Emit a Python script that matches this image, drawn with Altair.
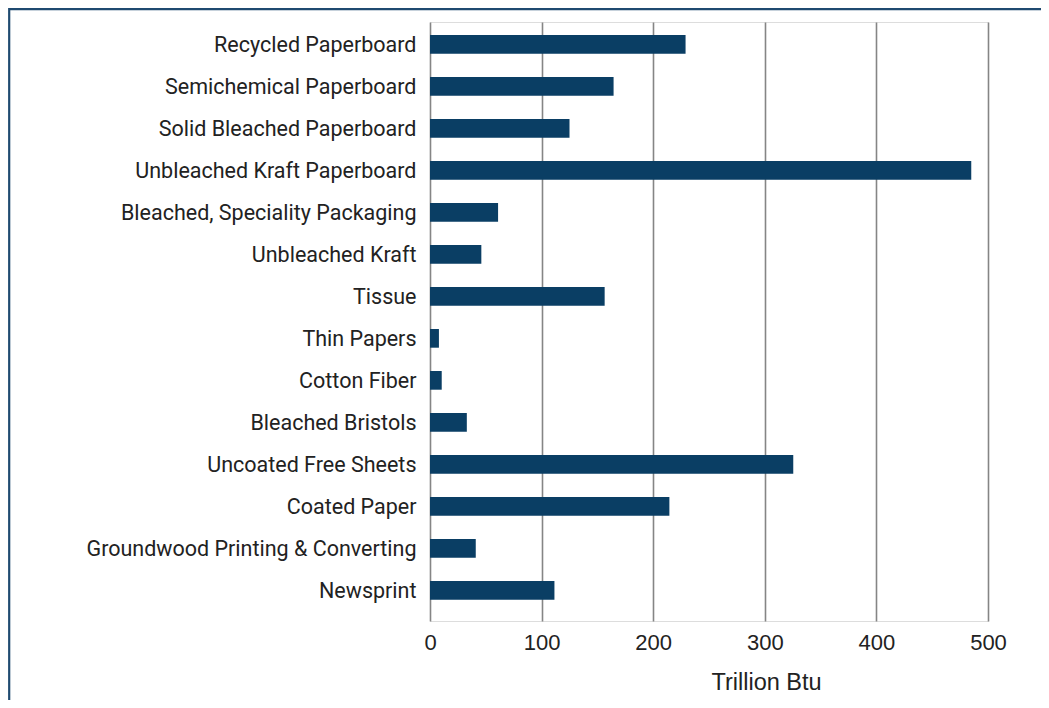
import altair as alt
import pandas as pd

categories = [
    "Recycled Paperboard",
    "Semichemical Paperboard",
    "Solid Bleached Paperboard",
    "Unbleached Kraft Paperboard",
    "Bleached, Speciality Packaging",
    "Unbleached Kraft",
    "Tissue",
    "Thin Papers",
    "Cotton Fiber",
    "Bleached Bristols",
    "Uncoated Free Sheets",
    "Coated Paper",
    "Groundwood Printing & Converting",
    "Newsprint",
]
values = [229, 164.5, 125, 485, 61, 46, 156.5, 8, 10.5, 33, 325.5, 214.5, 41, 111.5]
x_ticks = [0, 100, 200, 300, 400, 500]
x_title = "Trillion Btu"

df = pd.DataFrame({"category": categories, "value": values})

PLOT_W = 558
PLOT_H = 599
LEFT = 422
TOP = 14

bars = alt.Chart(df).mark_bar(color="#0a3e64").encode(
    x=alt.X(
        "value:Q",
        scale=alt.Scale(domain=[0, 500], nice=False),
        axis=alt.Axis(
            values=x_ticks,
            title=x_title,
            grid=True,
            gridColor="#858585",
            gridWidth=1.6,
            ticks=False,
            domain=False,
            labelFlush=False,
            labelFont="Liberation Sans",
            labelFontSize=22,
            labelColor="#222222",
            labelBaseline="alphabetic",
            labelPadding=28,
            titleFont="Liberation Sans",
            titleFontSize=23.5,
            titleFontWeight="normal",
            titleColor="#222222",
            titleX=336,
            titleY=68,
            titleAlign="center",
            titleBaseline="alphabetic",
        ),
    ),
    y=alt.Y(
        "category:N",
        sort=categories,
        scale=alt.Scale(paddingInner=0.555, paddingOuter=0.408, align=0.379),
        axis=alt.Axis(
            title=None,
            ticks=False,
            domain=False,
            grid=False,
            labelFont="Roboto",
            labelFontSize=21.5,
            labelColor="#222222",
            labelPadding=14,
            labelOffset=1.5,
            labelLimit=400,
        ),
    ),
)

frame = alt.Chart(alt.Data(values=[{}])).mark_rect(
    fill=None, stroke="#1f4a70", strokeWidth=2.2
).encode(
    x=alt.value(-LEFT + 1.2),
    x2=alt.value(900),
    y=alt.value(-TOP + 1.2),
    y2=alt.value(900),
)

chart = (
    alt.layer(bars, frame)
    .properties(
        width=PLOT_W,
        height=PLOT_H,
        autosize=alt.AutoSizeParams(type="none"),
        padding={"left": LEFT, "top": TOP, "right": 53, "bottom": 79},
    )
    .configure_view(stroke=None)
    .configure(background="white")
)

chart.save("out.html", embed_options={"renderer": "svg", "actions": False})
